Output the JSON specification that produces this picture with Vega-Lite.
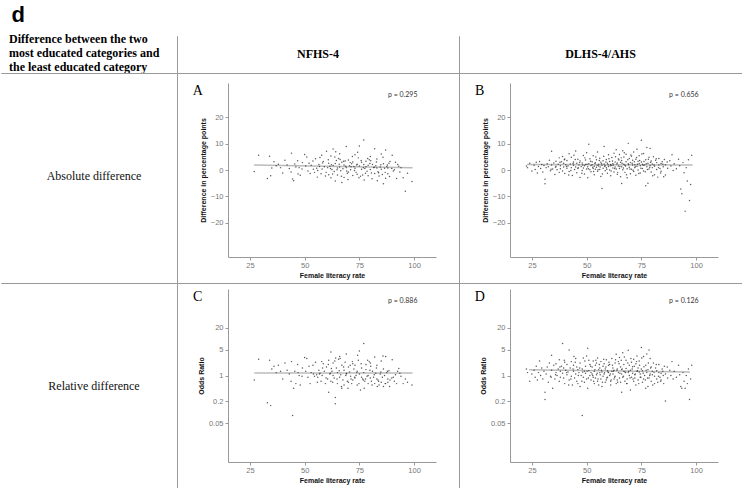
{
"$schema": "https://vega.github.io/schema/vega-lite/v6.json",
"padding": {"top": 4, "left": 0, "right": 0, "bottom": 0},
"title": {"text": "d", "anchor": "start", "font": "Liberation Sans", "fontSize": 22, "fontWeight": "bold", "color": "#000", "dx": 11, "offset": 5},
"config": {
  "concat": {"spacing": 0},
  "axis": {"grid": false, "domainColor": "#999", "tickColor": "#999", "tickSize": 3, "labelColor": "#777", "labelFont": "Liberation Sans", "labelFontSize": 7.5, "titleFont": "Liberation Sans", "titleFontSize": 7, "titleFontWeight": "bold", "titleColor": "#111"},
  "axisX": {"offset": -26, "labelPadding": 1, "titlePadding": 3},
  "axisY": {"offset": -51, "labelPadding": 2, "titlePadding": 4}
},
"datasets": {
"nfhs": [
{"x":27,"d":-0.6,"o":0.75},{"x":29,"d":5.6,"o":2.8},{"x":33,"d":-3.2,"o":0.18},{"x":34,"d":5.2,"o":2.6},{"x":34.5,"d":-2.2,"o":0.15},{"x":35,"d":0.8,"o":1.5},{"x":36,"d":3.1,"o":1.8},{"x":37,"d":1.6,"o":1.2},{"x":38,"d":2.2,"o":1.9},{"x":40,"d":-1.1,"o":0.8},{"x":41,"d":3.7,"o":2.2},{"x":42,"d":1.9,"o":1.4},{"x":43,"d":0.6,"o":1.1},{"x":44,"d":6.4,"o":2.4},{"x":44.5,"d":-3.4,"o":0.08},{"x":45,"d":-4.1,"o":0.45},{"x":45.5,"d":2.3,"o":1.3},{"x":46,"d":1.1,"o":0.6},{"x":47,"d":-1.5,"o":1.2},{"x":47.5,"d":0.9,"o":1.0},{"x":48,"d":-2,"o":0.55},{"x":49,"d":2.8,"o":1.6},{"x":50,"d":5.9,"o":3.1},{"x":50.5,"d":1.5,"o":1.3},{"x":51,"d":4.9,"o":2.9},{"x":51.5,"d":-0.4,"o":0.9},{"x":52,"d":2.6,"o":1.8},{"x":52.5,"d":-1.3,"o":0.6},{"x":53,"d":1.8,"o":1.2},{"x":54,"d":0.3,"o":1.1},{"x":54.5,"d":-0.9,"o":0.95},{"x":55,"d":4.3,"o":2.3},{"x":55.5,"d":0.7,"o":1.05},{"x":56,"d":-0.2,"o":0.9},{"x":56.5,"d":2.1,"o":1.4},{"x":57,"d":4.7,"o":1.15},{"x":57.5,"d":-1.4,"o":0.7},{"x":58,"d":0.4,"o":1.0},{"x":58.5,"d":3.2,"o":2.1},{"x":59,"d":1.2,"o":1.3},{"x":59.5,"d":-2.3,"o":0.6},{"x":60,"d":7.1,"o":1.7},{"x":60.5,"d":0.9,"o":0.8},{"x":61,"d":2.6,"o":2.6},{"x":61,"d":-1.8,"o":0.35},{"x":61.5,"d":1.4,"o":1.1},{"x":62,"d":5.3,"o":4.4},{"x":62,"d":-2.9,"o":0.7},{"x":62.5,"d":0.2,"o":1.3},{"x":63,"d":8.0,"o":2.2},{"x":63,"d":1.7,"o":1.0},{"x":63.5,"d":-0.6,"o":0.85},{"x":64,"d":2.5,"o":0.25},{"x":64,"d":-4.2,"o":0.17},{"x":64.5,"d":3.6,"o":1.6},{"x":65,"d":0.8,"o":1.2},{"x":65,"d":-1.9,"o":0.6},{"x":65.5,"d":4.4,"o":2.8},{"x":66,"d":6.2,"o":3.3},{"x":66,"d":1.1,"o":0.9},{"x":66.5,"d":-0.3,"o":1.05},{"x":67,"d":2.9,"o":1.9},{"x":67,"d":-4.7,"o":0.45},{"x":67.5,"d":0.5,"o":0.75},{"x":68,"d":1.9,"o":1.4},{"x":68,"d":-2.8,"o":0.55},{"x":68.5,"d":3.4,"o":2.3},{"x":69,"d":8.9,"o":3.9},{"x":69,"d":0.9,"o":1.1},{"x":69.5,"d":-1.2,"o":0.7},{"x":70,"d":3.8,"o":1.7},{"x":70,"d":-0.8,"o":0.65},{"x":70.5,"d":1.6,"o":1.25},{"x":71,"d":0.1,"o":0.95},{"x":71.5,"d":2.4,"o":0.6},{"x":72,"d":3.0,"o":2.1},{"x":72,"d":-2.1,"o":0.75},{"x":72.5,"d":1.3,"o":1.5},{"x":73,"d":5.8,"o":1.9},{"x":73,"d":0.7,"o":0.85},{"x":73.5,"d":-0.9,"o":1.0},{"x":74,"d":2.2,"o":1.3},{"x":74,"d":-1.6,"o":0.55},{"x":74.5,"d":4.6,"o":2.6},{"x":75,"d":9.1,"o":4.7},{"x":75,"d":1.5,"o":1.1},{"x":75.5,"d":-2.4,"o":0.4},{"x":76,"d":0.3,"o":0.9},{"x":76,"d":2.9,"o":1.6},{"x":76.5,"d":-1.9,"o":0.8},{"x":77,"d":11.4,"o":7.5},{"x":77,"d":2.1,"o":1.2},{"x":77.5,"d":0.6,"o":0.7},{"x":78,"d":1.2,"o":1.45},{"x":78,"d":3.3,"o":2.0},{"x":78.5,"d":-0.5,"o":0.95},{"x":79,"d":-2.2,"o":0.6},{"x":79,"d":1.8,"o":1.0},{"x":79.5,"d":3.9,"o":2.4},{"x":80,"d":5.1,"o":2.2},{"x":80,"d":0.2,"o":0.85},{"x":80.5,"d":-1.1,"o":0.7},{"x":81,"d":2.1,"o":1.3},{"x":81.5,"d":0.9,"o":0.9},{"x":82,"d":8.1,"o":3.2},{"x":82,"d":-1.3,"o":0.6},{"x":82.5,"d":1.6,"o":1.15},{"x":83,"d":0.8,"o":0.8},{"x":83,"d":4.2,"o":1.9},{"x":83.5,"d":-0.7,"o":0.75},{"x":84,"d":-2.3,"o":0.55},{"x":84.5,"d":1.1,"o":1.1},{"x":85,"d":6.1,"o":2.5},{"x":85,"d":0.3,"o":0.65},{"x":85.5,"d":-1.7,"o":0.9},{"x":86,"d":2.4,"o":1.5},{"x":86,"d":-5.2,"o":0.5},{"x":86.5,"d":0.7,"o":1.0},{"x":87,"d":7.6,"o":3.3},{"x":87,"d":-3.1,"o":0.6},{"x":87.5,"d":1.3,"o":1.2},{"x":88,"d":0.8,"o":0.8},{"x":88,"d":-1.4,"o":0.65},{"x":88.5,"d":2.6,"o":1.35},{"x":89,"d":3.2,"o":0.75},{"x":90,"d":5.6,"o":2.7},{"x":90.5,"d":-0.4,"o":0.9},{"x":91,"d":0.1,"o":0.7},{"x":92,"d":-3.2,"o":0.6},{"x":92.5,"d":2.1,"o":1.3},{"x":93,"d":1.4,"o":1.55},{"x":93.5,"d":-0.8,"o":1.15},{"x":94,"d":0.9,"o":0.95},{"x":95,"d":-2.9,"o":0.6},{"x":96,"d":-8.1,"o":0.8},{"x":97,"d":-1.2,"o":0.65},{"x":99,"d":-4.4,"o":0.55},
{"x":58.2,"d":2.7,"o":1.6},{"x":59.8,"d":-0.9,"o":0.85},{"x":60.8,"d":3.9,"o":2.0},{"x":61.8,"d":0.6,"o":1.15},{"x":62.8,"d":-1.5,"o":0.65},{"x":63.8,"d":4.9,"o":2.5},{"x":64.8,"d":0.1,"o":0.8},{"x":65.8,"d":2.2,"o":1.35},{"x":66.8,"d":-2.4,"o":0.5},{"x":67.8,"d":3.3,"o":1.7},{"x":68.8,"d":1.4,"o":1.0},{"x":69.8,"d":-3.6,"o":0.45},{"x":70.8,"d":2.8,"o":1.9},{"x":71.8,"d":5.1,"o":2.4},{"x":72.8,"d":-0.2,"o":0.9},{"x":73.8,"d":1.9,"o":1.2},{"x":74.8,"d":-2.9,"o":0.6},{"x":75.8,"d":3.6,"o":2.1},{"x":76.8,"d":0.9,"o":0.75},{"x":77.8,"d":-1.2,"o":0.8},{"x":78.8,"d":4.4,"o":2.6},{"x":79.8,"d":2.5,"o":1.4},{"x":80.8,"d":-3.3,"o":0.55},{"x":81.8,"d":1.0,"o":1.05},{"x":82.8,"d":3.0,"o":1.6},{"x":83.8,"d":-1.0,"o":0.7},{"x":84.8,"d":2.0,"o":1.25},{"x":85.8,"d":4.8,"o":3.4},{"x":86.8,"d":-0.9,"o":0.6},{"x":87.8,"d":1.9,"o":1.3},{"x":88.8,"d":-2.5,"o":0.5},{"x":89.8,"d":0.6,"o":0.85},{"x":91.5,"d":2.9,"o":1.05},{"x":53.8,"d":3.4,"o":1.9},{"x":55.8,"d":-2.7,"o":0.65},{"x":56.8,"d":1.3,"o":1.1},{"x":57.8,"d":5.6,"o":2.4},{"x":48.8,"d":0.4,"o":0.95},{"x":46.8,"d":3.5,"o":2.0},{"x":43.8,"d":-0.8,"o":0.7},{"x":39,"d":0.9,"o":1.3},{"x":66.2,"d":4.0,"o":2.9},{"x":69.2,"d":-0.4,"o":1.15},{"x":71.2,"d":1.2,"o":0.8},{"x":74.2,"d":6.7,"o":3.6},{"x":77.2,"d":-3.8,"o":0.45},{"x":80.2,"d":3.5,"o":1.8},{"x":83.2,"d":-4.1,"o":0.5},{"x":62.2,"d":2.0,"o":1.55},{"x":64.2,"d":6.9,"o":3.0}
],
"dlhs": [
{"x":22.5,"d":1.5,"o":1.5},{"x":23,"d":0.9,"o":1.2},{"x":24,"d":2.6,"o":0.7},{"x":25,"d":-0.4,"o":1.1},{"x":26,"d":1.8,"o":1.4},{"x":26.5,"d":0.2,"o":0.9},{"x":27,"d":2.9,"o":1.8},{"x":27.5,"d":-1.1,"o":0.75},{"x":28,"d":1.3,"o":1.2},{"x":28.5,"d":3.2,"o":2.5},{"x":29,"d":0.6,"o":1.0},{"x":29.5,"d":2.1,"o":1.6},
{"x":30,"d":-0.8,"o":0.8},{"x":30.5,"d":1.7,"o":1.3},{"x":31,"d":-5.2,"o":0.35},{"x":31,"d":-3.5,"o":0.22},{"x":31.5,"d":0.9,"o":1.1},{"x":32,"d":2.4,"o":1.7},{"x":32.5,"d":1.2,"o":0.65},{"x":33,"d":3.7,"o":2.2},{"x":33.5,"d":-0.3,"o":0.95},{"x":34,"d":7.1,"o":3.6},{"x":34,"d":1.9,"o":1.4},{"x":34.5,"d":0.4,"o":0.45},{"x":35,"d":2.7,"o":1.9},{"x":35.5,"d":-1.7,"o":0.8},{"x":36,"d":1.4,"o":1.2},{"x":36,"d":3.3,"o":2.1},{"x":36.5,"d":0.1,"o":1.0},{"x":37,"d":2.2,"o":1.5},{"x":37.5,"d":4.6,"o":2.7},{"x":37.5,"d":-0.9,"o":0.7},{"x":38,"d":1.6,"o":1.3},{"x":38,"d":0.5,"o":0.9},{"x":38.5,"d":3.1,"o":1.8},{"x":39,"d":5.1,"o":7.5},{"x":39,"d":-0.4,"o":1.15},{"x":39.5,"d":2.6,"o":1.6},{"x":39.5,"d":1.1,"o":0.85},{"x":40,"d":4.2,"o":2.3},{"x":40,"d":-1.3,"o":0.6},{"x":40.5,"d":2.0,"o":1.4},
{"x":41,"d":0.7,"o":1.05},{"x":41,"d":3.6,"o":2.0},{"x":41.5,"d":1.5,"o":1.25},{"x":42,"d":6.2,"o":5.0},{"x":42,"d":-0.6,"o":0.75},{"x":42.5,"d":2.3,"o":1.6},{"x":43,"d":0.9,"o":0.95},{"x":43,"d":4.8,"o":2.4},{"x":43.5,"d":-2.1,"o":0.55},{"x":44,"d":1.8,"o":1.3},{"x":44,"d":3.0,"o":1.9},{"x":44.5,"d":0.2,"o":0.85},{"x":45,"d":7.2,"o":2.9},{"x":45,"d":1.1,"o":1.1},{"x":45.5,"d":-1.0,"o":0.7},{"x":45.5,"d":2.6,"o":1.7},{"x":46,"d":4.1,"o":1.45},{"x":46,"d":0.6,"o":0.6},{"x":46.5,"d":1.9,"o":1.2},{"x":47,"d":-2.8,"o":0.5},{"x":47,"d":3.4,"o":2.2},{"x":47.5,"d":1.3,"o":1.0},{"x":48,"d":-0.2,"o":0.08},{"x":48,"d":2.7,"o":1.5},{"x":48.5,"d":5.5,"o":3.0},{"x":48.5,"d":0.8,"o":0.9},{"x":49,"d":1.6,"o":1.3},{"x":49,"d":-1.5,"o":0.65},{"x":49.5,"d":3.8,"o":1.8},{"x":49.5,"d":2.1,"o":1.15},{"x":50,"d":0.4,"o":0.8},{"x":50,"d":6.5,"o":3.4},{"x":50.5,"d":1.2,"o":5.6},{"x":50.5,"d":-2.9,"o":0.45},{"x":51,"d":9.8,"o":2.6},{"x":51,"d":2.4,"o":1.35},{"x":51.5,"d":0.1,"o":1.0},{"x":51.5,"d":4.3,"o":2.0},{"x":52,"d":1.7,"o":1.2},{"x":52,"d":-0.7,"o":0.75},
{"x":52.5,"d":3.1,"o":1.7},{"x":52.5,"d":2.0,"o":1.1},{"x":53,"d":0.6,"o":0.9},{"x":53,"d":5.4,"o":2.5},{"x":53.5,"d":1.4,"o":1.3},{"x":53.5,"d":-1.8,"o":0.6},{"x":54,"d":2.8,"o":1.9},{"x":54,"d":0.3,"o":0.85},{"x":54.5,"d":3.9,"o":2.2},{"x":54.5,"d":1.0,"o":1.05},{"x":55,"d":6.8,"o":3.0},{"x":55,"d":-0.5,"o":0.7},{"x":55.5,"d":2.2,"o":1.45},{"x":55.5,"d":1.5,"o":0.55},{"x":56,"d":4.5,"o":1.6},{"x":56,"d":0.2,"o":1.2},{"x":56.5,"d":2.9,"o":2.4},{"x":56.5,"d":-2.5,"o":0.8},{"x":57,"d":-7.0,"o":0.5},{"x":57,"d":1.8,"o":1.25},{"x":57.5,"d":3.5,"o":1.8},{"x":57.5,"d":0.7,"o":0.95},{"x":58,"d":8.9,"o":2.1},{"x":58,"d":2.3,"o":1.1},{"x":58.5,"d":-0.3,"o":0.65},{"x":58.5,"d":1.6,"o":1.5},{"x":59,"d":4.0,"o":2.7},{"x":59,"d":0.9,"o":0.75},{"x":59.5,"d":2.6,"o":1.35},{"x":59.5,"d":-1.2,"o":0.9},{"x":60,"d":1.3,"o":1.2},{"x":60,"d":5.8,"o":1.9},{"x":60.5,"d":0.0,"o":1.0},{"x":60.5,"d":3.2,"o":2.0},{"x":61,"d":2.1,"o":0.7},{"x":61,"d":-2.2,"o":0.55},{"x":61.5,"d":1.7,"o":1.3},{"x":61.5,"d":4.7,"o":2.9},{"x":62,"d":0.8,"o":1.1},{"x":62,"d":2.5,"o":1.6},{"x":62.5,"d":6.4,"o":1.4},{"x":62.5,"d":-0.8,"o":0.8},{"x":63,"d":3.0,"o":2.2},{"x":63,"d":1.1,"o":0.95},{"x":63.5,"d":7.7,"o":3.8},{"x":63.5,"d":0.4,"o":0.6},{"x":64,"d":2.7,"o":1.5},{"x":64,"d":-1.6,"o":0.75},{"x":64.5,"d":4.2,"o":2.4},{"x":64.5,"d":1.5,"o":1.2},
{"x":65,"d":5.9,"o":3.1},{"x":65,"d":0.6,"o":0.85},{"x":65.5,"d":2.9,"o":1.7},{"x":65.5,"d":-2.6,"o":0.65},{"x":66,"d":-5.1,"o":0.35},{"x":66,"d":3.6,"o":1.45},{"x":66,"d":1.2,"o":1.1},{"x":66.5,"d":7.3,"o":4.2},{"x":66.5,"d":0.1,"o":0.9},{"x":67,"d":2.2,"o":1.3},{"x":67,"d":4.9,"o":2.0},{"x":67.5,"d":-0.9,"o":0.7},{"x":67.5,"d":1.8,"o":1.25},{"x":68,"d":6.0,"o":2.6},{"x":68,"d":3.1,"o":1.55},{"x":68.5,"d":0.5,"o":0.8},{"x":68.5,"d":-2.9,"o":0.6},{"x":69,"d":10.1,"o":4.9},{"x":69,"d":2.4,"o":1.2},{"x":69.5,"d":1.0,"o":1.0},{"x":69.5,"d":4.4,"o":1.9},{"x":70,"d":-1.4,"o":0.4},{"x":70,"d":2.8,"o":1.4},{"x":70.5,"d":5.2,"o":2.3},{"x":70.5,"d":0.3,"o":0.9},{"x":71,"d":1.9,"o":1.15},{"x":71,"d":3.7,"o":1.75},{"x":71.5,"d":-0.6,"o":0.7},{"x":71.5,"d":6.8,"o":2.8},{"x":72,"d":2.0,"o":1.05},{"x":72,"d":0.9,"o":0.85},{"x":72.5,"d":4.1,"o":2.1},{"x":72.5,"d":-2.0,"o":0.55},{"x":73,"d":7.9,"o":3.4},{"x":73,"d":1.4,"o":1.3},{"x":73.5,"d":3.3,"o":1.6},{"x":73.5,"d":0.0,"o":0.75},{"x":74,"d":2.5,"o":1.25},{"x":74,"d":5.4,"o":2.5},{"x":74.5,"d":-1.1,"o":0.9},{"x":74.5,"d":1.6,"o":1.1},{"x":75,"d":11.3,"o":5.8},{"x":75,"d":3.0,"o":1.5},{"x":75.5,"d":0.6,"o":0.65},{"x":75.5,"d":2.2,"o":1.35},{"x":76,"d":6.3,"o":3.3},{"x":76,"d":-0.4,"o":0.8},{"x":76.5,"d":1.9,"o":1.0},{"x":77,"d":-6.0,"o":0.45},{"x":77,"d":3.9,"o":1.9},
{"x":77.5,"d":8.5,"o":3.9},{"x":77.5,"d":1.2,"o":1.2},{"x":78,"d":-5.0,"o":0.5},{"x":78,"d":2.6,"o":1.45},{"x":78.5,"d":0.4,"o":0.85},{"x":78.5,"d":4.8,"o":5.0},{"x":79,"d":8.2,"o":2.9},{"x":79,"d":1.7,"o":1.1},{"x":79.5,"d":-0.8,"o":0.7},{"x":79.5,"d":3.4,"o":1.7},{"x":80,"d":0.9,"o":1.05},{"x":80,"d":2.3,"o":1.3},{"x":80.5,"d":5.0,"o":2.2},{"x":81,"d":-1.8,"o":0.6},{"x":81,"d":1.4,"o":0.95},{"x":81.5,"d":3.7,"o":1.6},{"x":82,"d":0.2,"o":0.8},{"x":82,"d":2.8,"o":1.35},{"x":82.5,"d":-2.7,"o":0.65},{"x":83,"d":1.9,"o":1.2},{"x":83,"d":4.4,"o":2.0},{"x":83.5,"d":0.6,"o":0.9},{"x":84,"d":2.5,"o":1.15},{"x":84,"d":-0.5,"o":0.75},{"x":84.5,"d":3.1,"o":1.5},{"x":85,"d":1.2,"o":1.0},{"x":85.5,"d":4.0,"o":1.8},{"x":86,"d":-1.9,"o":0.2},{"x":86,"d":2.0,"o":1.1},{"x":87,"d":0.7,"o":0.85},{"x":88,"d":3.5,"o":1.4},{"x":88.5,"d":1.5,"o":1.0},{"x":89,"d":5.8,"o":2.4},{"x":89.5,"d":-0.2,"o":0.8},
{"x":90,"d":2.4,"o":1.3},{"x":91,"d":0.5,"o":0.9},{"x":92,"d":4.1,"o":1.9},{"x":92.5,"d":1.6,"o":1.05},{"x":93,"d":-7.2,"o":0.5},{"x":93.5,"d":-9.0,"o":0.45},{"x":94,"d":2.8,"o":1.2},{"x":94.5,"d":-1.0,"o":0.7},{"x":95,"d":-15.6,"o":0.45},{"x":95.5,"d":0.9,"o":1.0},{"x":96,"d":-4.2,"o":0.6},{"x":96.5,"d":3.9,"o":1.5},{"x":97,"d":-11.6,"o":0.22},{"x":97.5,"d":-5.5,"o":0.8},{"x":98,"d":5.6,"o":1.9},
{"x":35.8,"d":1.0,"o":1.05},{"x":37.8,"d":2.9,"o":1.7},{"x":40.8,"d":1.3,"o":1.2},{"x":42.8,"d":-0.2,"o":0.8},{"x":43.8,"d":2.5,"o":1.5},{"x":44.8,"d":4.0,"o":2.3},{"x":46.2,"d":0.9,"o":1.0},{"x":46.8,"d":2.8,"o":1.6},{"x":47.8,"d":-1.2,"o":0.7},{"x":48.2,"d":1.9,"o":1.25},{"x":49.2,"d":4.6,"o":2.5},{"x":50.2,"d":2.2,"o":1.3},{"x":50.8,"d":0.5,"o":0.85},{"x":51.8,"d":3.3,"o":1.8},{"x":52.8,"d":1.0,"o":1.0},{"x":53.2,"d":-0.6,"o":0.7},{"x":53.8,"d":2.5,"o":1.45},{"x":54.2,"d":4.9,"o":2.6},{"x":54.8,"d":1.8,"o":1.15},{"x":55.2,"d":0.1,"o":0.8},{"x":55.8,"d":3.6,"o":2.0},{"x":56.2,"d":1.1,"o":1.05},{"x":56.8,"d":2.4,"o":1.4},{"x":57.2,"d":-1.5,"o":0.65},{"x":57.8,"d":5.2,"o":2.8},{"x":58.2,"d":1.4,"o":1.2},{"x":58.8,"d":3.0,"o":1.7},{"x":59.2,"d":0.3,"o":0.85},{"x":59.8,"d":2.0,"o":1.25},{"x":60.2,"d":4.3,"o":2.3},{"x":60.8,"d":1.6,"o":1.1},{"x":61.2,"d":-0.4,"o":0.75},{"x":61.8,"d":3.4,"o":1.9},{"x":62.2,"d":1.9,"o":1.3},{"x":62.8,"d":0.6,"o":0.9},{"x":63.2,"d":5.0,"o":2.7},{"x":63.8,"d":2.3,"o":1.4},{"x":64.2,"d":-0.9,"o":0.65},{"x":64.8,"d":3.8,"o":2.1},{"x":65.2,"d":1.3,"o":1.15},{"x":65.8,"d":4.6,"o":2.6},{"x":66.2,"d":2.6,"o":1.5},{"x":66.8,"d":0.8,"o":0.95},{"x":67.2,"d":6.5,"o":3.2},{"x":67.8,"d":1.5,"o":1.2},{"x":68.2,"d":-1.8,"o":0.6},{"x":68.8,"d":3.9,"o":2.2},{"x":69.2,"d":2.0,"o":1.3},{"x":69.8,"d":0.4,"o":0.85},{"x":70.2,"d":5.7,"o":2.9},{"x":70.8,"d":2.6,"o":1.5},{"x":71.2,"d":-0.1,"o":0.8},{"x":71.8,"d":3.1,"o":1.8},{"x":72.2,"d":1.2,"o":1.1},{"x":72.8,"d":4.7,"o":2.4},{"x":73.2,"d":2.2,"o":1.35},{"x":73.8,"d":-1.3,"o":0.6},{"x":74.2,"d":3.6,"o":1.9},{"x":74.8,"d":0.7,"o":0.9},{"x":75.2,"d":6.1,"o":3.0},{"x":75.8,"d":1.8,"o":1.15},{"x":76.2,"d":3.2,"o":1.75},{"x":76.8,"d":-0.7,"o":0.75},{"x":77.2,"d":2.4,"o":1.4},{"x":77.8,"d":0.2,"o":0.85},{"x":78.2,"d":4.1,"o":2.2},{"x":78.8,"d":1.0,"o":1.0},{"x":79.2,"d":2.9,"o":1.6},{"x":80.2,"d":-2.2,"o":0.55},{"x":80.8,"d":1.9,"o":1.2},{"x":81.8,"d":4.3,"o":2.0},{"x":82.8,"d":0.9,"o":0.95},{"x":83.8,"d":-1.1,"o":0.7},{"x":84.8,"d":2.2,"o":1.3},{"x":85.2,"d":-2.6,"o":0.6},{"x":86.8,"d":3.0,"o":1.7},{"x":41.8,"d":-1.9,"o":0.55},{"x":39.8,"d":3.9,"o":2.6},{"x":33.8,"d":0.3,"o":0.9},{"x":44.2,"d":5.6,"o":3.3}
]
},
"columns": 3,
"spacing": 0,
"bounds": "flush",
"concat": [
  {"width": 176, "height": 37, "view": {"stroke": "#999", "strokeDash": [0, 176, 213, 37]},
   "data": {"values": [{"t": "Difference between the two\nmost educated categories and\nthe least educated category"}]},
   "mark": {"type": "text", "align": "left", "dx": -80, "dy": -16, "font": "Liberation Serif", "fontSize": 12, "fontWeight": "bold", "color": "#000", "lineBreak": "\n", "lineHeight": 14},
   "encoding": {"text": {"field": "t"}}},
  {"width": 282, "height": 37, "view": {"stroke": "#999", "strokeDash": [0, 282, 356, 0]},
   "data": {"values": [{"t": "NFHS-4"}]},
   "mark": {"type": "text", "font": "Liberation Serif", "fontSize": 12, "fontWeight": "bold", "color": "#000", "dy": -1},
   "encoding": {"text": {"field": "t"}}},
  {"width": 283, "height": 37, "view": {"stroke": "#999", "strokeDash": [0, 283, 357, 0]},
   "data": {"values": [{"t": "DLHS-4/AHS"}]},
   "mark": {"type": "text", "font": "Liberation Serif", "fontSize": 12, "fontWeight": "bold", "color": "#000", "dy": -1},
   "encoding": {"text": {"field": "t"}}},
  {"width": 176, "height": 210, "view": {"stroke": "#999", "strokeDash": [562, 210]},
   "data": {"values": [{"t": "Absolute difference"}]},
   "mark": {"type": "text", "font": "Liberation Serif", "fontSize": 12, "color": "#111", "dx": 5, "dy": -2},
   "encoding": {"text": {"field": "t"}}},
  {"width": 282, "height": 210, "view": {"stroke": "#999"},
   "encoding": {
     "x": {"field": "x", "type": "quantitative", "title": "Female literacy rate", "scale": {"domain": [15, 110], "range": [51, 259], "nice": false, "zero": false}, "axis": {"values": [25, 50, 75, 100]}},
     "y": {"field": "d", "type": "quantitative", "title": "Difference in percentage points", "scale": {"domain": [-33, 33], "range": [184, 10], "nice": false, "zero": false}, "axis": {"values": [-20, -10, 0, 10, 20]}}
   },
   "layer": [
     {"data": {"values": [{"x": 26.9, "d": 1.9}, {"x": 99.3, "d": 0.87}]}, "mark": {"type": "line", "color": "#bbb", "strokeWidth": 1.5}},
     {"data": {"name": "nfhs"}, "mark": {"type": "circle", "size": 2.2, "color": "#222", "opacity": 0.75}},
     {"data": {"values": [{"x": 1.2, "d": 30, "t": "A"}]}, "mark": {"type": "text", "font": "Liberation Serif", "fontSize": 14, "color": "#000"}, "encoding": {"text": {"field": "t"}}},
     {"data": {"values": [{"x": 94.8, "d": 28.3, "t": "p = 0.295"}]}, "mark": {"type": "text", "font": "Lato", "fontSize": 7, "color": "#333"}, "encoding": {"text": {"field": "t"}}}
   ]},
  {"width": 283, "height": 210, "view": {"stroke": "#999"},
   "encoding": {
     "x": {"field": "x", "type": "quantitative", "title": "Female literacy rate", "scale": {"domain": [15, 110], "range": [51, 259], "nice": false, "zero": false}, "axis": {"values": [25, 50, 75, 100]}},
     "y": {"field": "d", "type": "quantitative", "title": "Difference in percentage points", "scale": {"domain": [-33, 33], "range": [184, 10], "nice": false, "zero": false}, "axis": {"values": [-20, -10, 0, 10, 20]}}
   },
   "layer": [
     {"data": {"values": [{"x": 22.8, "d": 2.1}, {"x": 98.4, "d": 1.9}]}, "mark": {"type": "line", "color": "#bbb", "strokeWidth": 1.5}},
     {"data": {"name": "dlhs"}, "mark": {"type": "circle", "size": 2.2, "color": "#222", "opacity": 0.75}},
     {"data": {"values": [{"x": 1.2, "d": 30, "t": "B"}]}, "mark": {"type": "text", "font": "Liberation Serif", "fontSize": 14, "color": "#000"}, "encoding": {"text": {"field": "t"}}},
     {"data": {"values": [{"x": 94.4, "d": 28.3, "t": "p = 0.656"}]}, "mark": {"type": "text", "font": "Lato", "fontSize": 7, "color": "#333"}, "encoding": {"text": {"field": "t"}}}
   ]},
  {"width": 176, "height": 205, "view": {"stroke": "#999", "strokeDash": [557, 205]},
   "data": {"values": [{"t": "Relative difference"}]},
   "mark": {"type": "text", "font": "Liberation Serif", "fontSize": 12, "color": "#111", "dx": 5},
   "encoding": {"text": {"field": "t"}}},
  {"width": 282, "height": 205, "view": {"stroke": "#999"},
   "encoding": {
     "x": {"field": "x", "type": "quantitative", "title": "Female literacy rate", "scale": {"domain": [15, 110], "range": [51, 259], "nice": false, "zero": false}, "axis": {"values": [25, 50, 75, 100]}},
     "y": {"field": "o", "type": "quantitative", "title": "Odds Ratio", "scale": {"type": "log", "domain": [0.0043, 233], "range": [179, 6], "nice": false}, "axis": {"values": [0.05, 0.2, 1, 5, 20]}}
   },
   "layer": [
     {"data": {"values": [{"x": 27, "o": 1.18}, {"x": 99.3, "o": 1.18}]}, "mark": {"type": "line", "color": "#bbb", "strokeWidth": 1.5}},
     {"data": {"name": "nfhs"}, "mark": {"type": "circle", "size": 2.2, "color": "#222", "opacity": 0.75}},
     {"data": {"values": [{"x": 1.2, "o": 140, "t": "C"}]}, "mark": {"type": "text", "font": "Liberation Serif", "fontSize": 14, "color": "#000"}, "encoding": {"text": {"field": "t"}}},
     {"data": {"values": [{"x": 94.8, "o": 109, "t": "p = 0.886"}]}, "mark": {"type": "text", "font": "Lato", "fontSize": 7, "color": "#333"}, "encoding": {"text": {"field": "t"}}}
   ]},
  {"width": 283, "height": 205, "view": {"stroke": "#999"},
   "encoding": {
     "x": {"field": "x", "type": "quantitative", "title": "Female literacy rate", "scale": {"domain": [15, 110], "range": [51, 259], "nice": false, "zero": false}, "axis": {"values": [25, 50, 75, 100]}},
     "y": {"field": "o", "type": "quantitative", "title": "Odds Ratio", "scale": {"type": "log", "domain": [0.0043, 233], "range": [179, 6], "nice": false}, "axis": {"values": [0.05, 0.2, 1, 5, 20]}}
   },
   "layer": [
     {"data": {"values": [{"x": 23.8, "o": 1.44}, {"x": 97.2, "o": 1.25}]}, "mark": {"type": "line", "color": "#bbb", "strokeWidth": 1.5}},
     {"data": {"name": "dlhs"}, "mark": {"type": "circle", "size": 2.2, "color": "#222", "opacity": 0.75}},
     {"data": {"values": [{"x": 1.2, "o": 140, "t": "D"}]}, "mark": {"type": "text", "font": "Liberation Serif", "fontSize": 14, "color": "#000"}, "encoding": {"text": {"field": "t"}}},
     {"data": {"values": [{"x": 94.4, "o": 109, "t": "p = 0.126"}]}, "mark": {"type": "text", "font": "Lato", "fontSize": 7, "color": "#333"}, "encoding": {"text": {"field": "t"}}}
   ]}
]
}
